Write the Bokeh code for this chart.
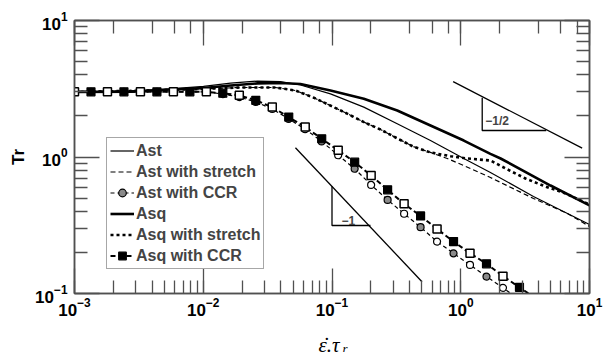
from bokeh.plotting import figure
from bokeh.layouts import column
from bokeh.models import (LogAxis, Legend, LegendItem, Label, Range1d,
                          CustomJSTickFormatter, FixedTicker, LogTicker)
from bokeh.core.properties import value
from bokeh.embed import file_html
from bokeh.resources import INLINE

# ---------------- data ----------------
ast_x = [0.001, 0.00272, 0.00557, 0.01004, 0.0163, 0.0264, 0.0398, 0.0569,
         0.0973, 0.1766, 0.321, 0.582, 1.056, 1.70, 3.67, 10.0]
ast_y = [3.0, 3.04, 3.16, 3.29, 3.48, 3.60, 3.57, 3.37,
         2.90, 2.32, 1.75, 1.32, 0.975, 0.770, 0.514, 0.320]

asq_x = [0.001, 0.00272, 0.00557, 0.01004, 0.0163, 0.0264, 0.0398, 0.0569,
         0.0973, 0.1766, 0.321, 0.582, 1.056, 1.70, 2.04, 4.98, 10.0]
asq_y = [3.0, 3.01, 3.12, 3.20, 3.34, 3.46, 3.48, 3.43,
         3.07, 2.67, 2.19, 1.70, 1.32, 1.055, 0.975, 0.618, 0.442]

ast_str_x = [0.001, 0.00272, 0.0095, 0.01945, 0.0364, 0.0520, 0.0722, 0.0973,
             0.131, 0.177, 0.238, 0.321, 0.429, 0.582, 0.786, 1.056, 1.70,
             3.67, 6.71, 10.0]
ast_str_y = [3.0, 3.05, 3.15, 3.23, 3.23, 3.07, 2.72, 2.38,
             2.08, 1.80, 1.59, 1.37, 1.19, 1.08, 0.975, 0.866, 0.708,
             0.497, 0.386, 0.310]

asq_str_x = [0.001, 0.00272, 0.0095, 0.01945, 0.0364, 0.0520, 0.0722, 0.0973,
             0.131, 0.177, 0.238, 0.321, 0.429, 0.582, 0.832, 1.122, 1.70,
             2.23, 3.18, 4.55, 6.51, 10.0]
asq_str_y = [3.0, 3.05, 3.15, 3.23, 3.23, 3.07, 2.72, 2.38,
             2.08, 1.80, 1.59, 1.37, 1.19, 1.08, 1.014, 0.975, 0.943,
             0.824, 0.696, 0.608, 0.541, 0.449]

ccr_x = [0.001, 0.001343, 0.001803, 0.002421, 0.003251, 0.004365, 0.005861,
         0.00787, 0.01057, 0.01419, 0.01905, 0.02559, 0.03436, 0.04613,
         0.06194, 0.08318, 0.1117, 0.1500, 0.2014, 0.2704, 0.3631, 0.4875,
         0.6546, 0.8790, 1.180, 1.585, 2.128, 2.858, 3.837]
ast_ccr_y = [3.0, 3.0, 3.0, 3.0, 3.0, 3.0, 3.0, 3.0, 3.0, 2.89, 2.75, 2.53,
             2.25, 1.90, 1.60, 1.30, 1.03, 0.82, 0.624, 0.485, 0.384, 0.306,
             0.240, 0.197, 0.162, 0.133, 0.110, 0.090, 0.074]
asq_ccr_y = [3.0, 3.0, 3.0, 3.0, 3.0, 3.0, 3.0, 3.0, 3.0, 2.93, 2.83, 2.60,
             2.32, 1.96, 1.66, 1.36, 1.12, 0.916, 0.732, 0.575, 0.454, 0.370,
             0.297, 0.240, 0.197, 0.165, 0.134, 0.111, 0.092]

# slope guides
half_line_x = [0.873, 8.77]
half_line_y = [3.57, 1.16]
half_tri_x = [1.468, 1.468, 4.61]
half_tri_y = [2.72, 1.563, 1.563]
one_line_x = [0.052, 0.50]
one_line_y = [1.17, 0.122]
one_tri_x = [0.1, 0.1, 0.199]
one_tri_y = [0.61, 0.315, 0.315]

# axis ticks
y_major = [0.1, 1.0, 10.0]
y_minor = [0.2, 0.3, 0.4, 0.5, 0.6, 0.7, 0.8, 0.9,
           2, 3, 4, 5, 6, 7, 8, 9]

legend_labels = ["Ast", "Ast with stretch", "Ast with CCR",
                 "Asq", "Asq with stretch", "Asq with CCR"]

# ---------------- figure ----------------
AX = "#505050"
SANS = "Liberation Sans"
SERIF = "Liberation Serif"

p = figure(width=611, height=323, frame_width=515, frame_height=273,
           title=None,
           x_axis_type="log", y_axis_type="log",
           x_range=Range1d(1e-3, 10), y_range=Range1d(0.1, 10),
           output_backend="svg", toolbar_location=None,
           min_border_left=74, min_border_right=22,
           min_border_top=20, min_border_bottom=30)
p.xgrid.visible = False
p.ygrid.visible = False
p.outline_line_color = AX
p.outline_line_width = 1.5
p.background_fill_color = "white"
p.border_fill_color = "white"


def style_axis(ax, size="17px"):
    ax.axis_line_color = AX
    ax.axis_line_width = 1.5
    ax.major_tick_line_color = AX
    ax.minor_tick_line_color = AX
    ax.major_tick_line_width = 1.3
    ax.minor_tick_line_width = 1.3
    ax.major_tick_in = 25
    ax.major_tick_out = 0
    ax.minor_tick_in = 13
    ax.minor_tick_out = 0
    ax.major_label_text_font = SANS
    ax.major_label_text_font_style = "bold"
    ax.major_label_text_font_size = size
    ax.major_label_text_color = "black"


p.yaxis[0].ticker = FixedTicker(ticks=y_major, minor_ticks=y_minor)
for ax in (p.xaxis[0], p.yaxis[0]):
    style_axis(ax)

p.xaxis[0].major_label_standoff = 4
p.yaxis[0].major_label_standoff = 7

p.yaxis[0].axis_label = "Tr"
p.yaxis[0].axis_label_text_font = SANS
p.yaxis[0].axis_label_text_font_style = "bold"
p.yaxis[0].axis_label_text_font_size = "17px"
p.yaxis[0].axis_label_standoff = 4
p.yaxis[0].axis_label_text_color = "black"

blank = CustomJSTickFormatter(code="return ''")
top = LogAxis(formatter=blank, ticker=LogTicker())
right = LogAxis(formatter=blank,
                ticker=FixedTicker(ticks=y_major, minor_ticks=y_minor))
style_axis(top, "1px")
style_axis(right, "1px")
top.major_label_standoff = 0
right.major_label_standoff = 0
p.add_layout(top, "above")
p.add_layout(right, "right")

# ---------------- curves ----------------
r_ast = p.line(ast_x, ast_y, line_color="black", line_width=1.2)
r_ast_s = p.line(ast_str_x, ast_str_y, line_color="black", line_width=1.2,
                 line_dash="5 3")
r_asq = p.line(asq_x, asq_y, line_color="black", line_width=2.6)
r_asq_s = p.line(asq_str_x, asq_str_y, line_color="black", line_width=2.6,
                 line_dash="3 3")

r_ast_c = p.line(ccr_x, ast_ccr_y, line_color="black", line_width=1.2,
                 line_dash="4 3")
r_asq_c = p.line(ccr_x, asq_ccr_y, line_color="black", line_width=2.0,
                 line_dash="5 3")

odd = [i for i in range(len(ccr_x)) if i % 2 == 1]
even = [i for i in range(len(ccr_x)) if i % 2 == 0]

r_c_open = p.scatter([ccr_x[i] for i in even], [ast_ccr_y[i] for i in even],
                     marker="circle", size=7, fill_color="white",
                     line_color="black", line_width=1.2)
r_c_fill = p.scatter([ccr_x[i] for i in odd], [ast_ccr_y[i] for i in odd],
                     marker="circle", size=7, fill_color="#8a8a8a",
                     line_color="black", line_width=1.2)
r_s_open = p.scatter([ccr_x[i] for i in even], [asq_ccr_y[i] for i in even],
                     marker="square", size=8, fill_color="white",
                     line_color="black", line_width=1.5)
r_s_fill = p.scatter([ccr_x[i] for i in odd], [asq_ccr_y[i] for i in odd],
                     marker="square", size=8, fill_color="black",
                     line_color="black", line_width=1.2)

# slope guides
p.line(half_line_x, half_line_y, line_color="black", line_width=1.3)
p.line(half_tri_x, half_tri_y, line_color="black", line_width=1.3)
p.line(one_line_x, one_line_y, line_color="black", line_width=1.3)
p.line(one_tri_x, one_tri_y, line_color="black", line_width=1.3)

p.add_layout(Label(x=1.55, y=1.85, text="\u22121/2", text_font=SANS,
                   text_font_style="bold", text_font_size="12px",
                   text_baseline="middle", text_align="left"))
p.add_layout(Label(x=0.1186, y=0.343, text="\u22121", text_font=SANS,
                   text_font_style="bold", text_font_size="12px",
                   text_baseline="middle", text_align="left"))

# ---------------- legend ----------------
items = [
    LegendItem(label=legend_labels[0], renderers=[r_ast]),
    LegendItem(label=legend_labels[1], renderers=[r_ast_s]),
    LegendItem(label=legend_labels[2], renderers=[r_ast_c, r_c_fill]),
    LegendItem(label=legend_labels[3], renderers=[r_asq]),
    LegendItem(label=legend_labels[4], renderers=[r_asq_s]),
    LegendItem(label=legend_labels[5], renderers=[r_asq_c, r_s_fill]),
]
legend = Legend(items=items, location=(32, 24))
legend.label_text_font = SANS
legend.label_text_font_style = "bold"
legend.label_text_font_size = "16px"
legend.label_height = 19
legend.glyph_height = 19
legend.glyph_width = 24
legend.spacing = 2
legend.padding = 3
legend.margin = 0
legend.label_standoff = 2
legend.border_line_color = AX
legend.border_line_width = 1.5
legend.background_fill_alpha = 1.0
p.add_layout(legend)

# ---------------- x-axis title strip (epsilon-dot . tau_r) ----------------
# frame aligned with the main plot frame (74..589 px), so x is in page pixels
q = figure(width=611, height=29, frame_width=515, frame_height=29,
           title=None, x_range=Range1d(74, 589),
           y_range=Range1d(29, 0), output_backend="svg",
           toolbar_location=None,
           min_border_left=74, min_border_right=22,
           min_border_top=0, min_border_bottom=0,
           x_axis_location=None, y_axis_location=None)
q.xgrid.visible = False
q.ygrid.visible = False
q.outline_line_color = None
q.background_fill_color = "white"
q.border_fill_color = "white"

q.text(x=[318], y=[21], text=["\u03b5.\u03c4"], text_font=value(SERIF),
       text_font_style="italic", text_font_size="21px",
       text_baseline="alphabetic", text_align="left", text_color="black")
q.text(x=[325], y=[21], text=["\u02d9"], text_font=value(SERIF),
       text_font_style="italic", text_font_size="21px",
       text_baseline="alphabetic", text_align="center", text_color="black")
q.text(x=[342], y=[25], text=["r"], text_font=value(SERIF),
       text_font_style="italic", text_font_size="13px",
       text_baseline="alphabetic", text_align="left", text_color="black")

layout = column(p, q, spacing=0)
open("out.html", "w").write(file_html(layout, INLINE))
